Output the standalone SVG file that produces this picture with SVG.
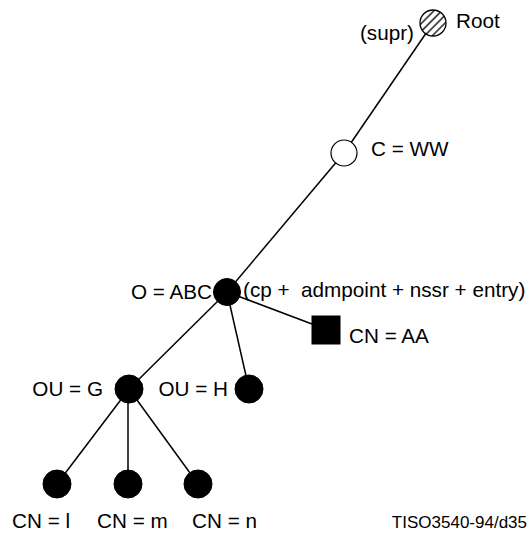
<svg xmlns="http://www.w3.org/2000/svg" width="531" height="533" viewBox="0 0 531 533">
<style>
text{font-family:"Liberation Sans",Arial,sans-serif;font-size:20.7px;fill:#000;white-space:pre}
.small{font-size:17px}
.edge{stroke:#000;stroke-width:1.5;fill:none}
.fill{fill:#000;stroke:#000;stroke-width:1}
.open{fill:#fff;stroke:#000;stroke-width:1.2}
</style>
<defs>
<pattern id="hatch" patternUnits="userSpaceOnUse" width="5.5" height="5.5" patternTransform="rotate(45)">
<rect width="5.5" height="5.5" fill="#fff"/>
<line x1="1" y1="0" x2="1" y2="5.5" stroke="#000" stroke-width="1.3"/>
</pattern>
</defs>
<rect width="531" height="533" fill="#fff"/>
<g id="connectors">
<line class="edge" x1="433" y1="23" x2="344" y2="153"/>
<line class="edge" x1="344" y1="153" x2="227" y2="292"/>
<line class="edge" x1="227" y1="292" x2="312" y2="324"/>
<line class="edge" x1="227" y1="292" x2="129" y2="389"/>
<line class="edge" x1="227" y1="292" x2="249" y2="389"/>
<line class="edge" x1="129" y1="389" x2="57" y2="484"/>
<line class="edge" x1="128" y1="389" x2="128" y2="484"/>
<line class="edge" x1="129" y1="389" x2="198" y2="484"/>
</g>
<g id="root">
<circle cx="433" cy="23" r="13" fill="url(#hatch)" stroke="#000" stroke-width="1.3"/>
<text x="456" y="28">Root</text>
<text x="414" y="40" text-anchor="end">(supr)</text>
</g>
<g id="c-ww">
<circle class="open" cx="344" cy="153" r="13"/>
<text x="371" y="156">C = WW</text>
</g>
<g id="o-abc">
<circle class="fill" cx="227" cy="292" r="13.5"/>
<text x="212" y="299" text-anchor="end">O = ABC</text>
<text x="243" y="297">(cp +  admpoint + nssr + entry)</text>
</g>
<g id="cn-aa">
<rect class="fill" x="312" y="316" width="28" height="28"/>
<text x="349" y="343">CN = AA</text>
</g>
<g id="ou-g">
<circle class="fill" cx="129" cy="389" r="14"/>
<text x="103" y="396" text-anchor="end">OU = G</text>
</g>
<g id="ou-h">
<circle class="fill" cx="249" cy="389" r="14"/>
<text x="228" y="396" text-anchor="end">OU = H</text>
</g>
<g id="cn-l">
<circle class="fill" cx="57" cy="484" r="14"/>
<text x="12" y="528">CN = l</text>
</g>
<g id="cn-m">
<circle class="fill" cx="128" cy="484" r="14"/>
<text x="97" y="528">CN = m</text>
</g>
<g id="cn-n">
<circle class="fill" cx="198" cy="484" r="14"/>
<text x="192" y="528">CN = n</text>
</g>
<text class="small" x="527" y="528" text-anchor="end">TISO3540-94/d35</text>
</svg>
